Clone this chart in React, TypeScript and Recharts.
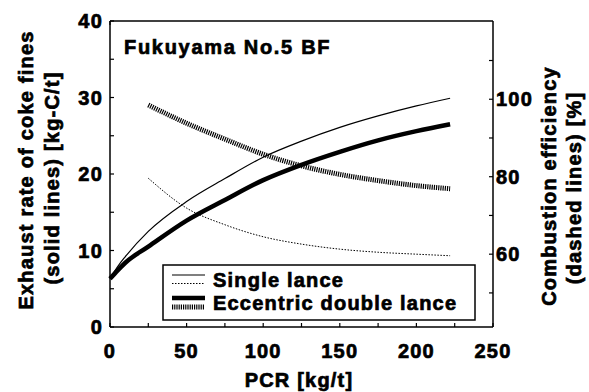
import React from 'react';
import { LineChart, Line, XAxis, YAxis } from 'recharts';

const FONT = '"Liberation Sans", Arial, Helvetica, sans-serif';

// PCR [kg/t]
const pcr = [0, 5, 10, 25, 50, 75, 100, 125, 150, 175, 200, 222];
// exhaust rate of coke fines [kg-C/t] (solid lines)
const singleExhaust = [6.3, 7.9, 9.2, 12.5, 16.4, 19.4, 22.2, 24.3, 26.1, 27.6, 28.9, 29.9];
const doubleExhaust = [6.3, 7.4, 8.4, 10.5, 13.9, 16.6, 19.2, 21.2, 22.9, 24.4, 25.6, 26.5];
// combustion efficiency [%] (dashed lines)
const singleEfficiency = [null, null, null, 79.6, 71.9, 67.6, 64.5, 62.6, 61.3, 60.5, 60.0, 59.6];
const doubleEfficiency = [null, null, null, 98.5, 93.8, 89.7, 85.8, 82.8, 80.6, 79.0, 77.7, 76.9];

// tick positions (every value gets an inward tick mark, labelled ones get text)
const xTicks = [0, 25, 50, 75, 100, 125, 150, 175, 200, 225, 250];
const xLabels = [0, 50, 100, 150, 200, 250];
const leftTicks = [0, 5, 10, 15, 20, 25, 30, 35, 40];
const leftLabels = [0, 10, 20, 30, 40];
const rightTicks = [50, 60, 70, 80, 90, 100, 110];
const rightLabels = [60, 80, 100];

const data = pcr.map((x, i) => ({
  pcr: x,
  singleExhaust: singleExhaust[i],
  doubleExhaust: doubleExhaust[i],
  singleEfficiency: singleEfficiency[i],
  doubleEfficiency: doubleEfficiency[i],
}));

const onlyLabels = (labels: number[]) => (v: number) => (labels.includes(v) ? String(v) : '');

const tickStyle = {
  fill: '#000',
  stroke: '#000',
  strokeWidth: 0.7,
  fontSize: 20,
  fontWeight: 700,
  fontFamily: FONT,
  letterSpacing: 1.2,
};
const frame = { stroke: '#000', strokeWidth: 1.5 };
const tickMark = { stroke: '#000', strokeWidth: 1.2 };

const titleProps = {
  fontFamily: FONT,
  fontWeight: 700,
  fontSize: 20,
  letterSpacing: 1.2,
  fill: '#000',
  stroke: '#000',
  strokeWidth: 0.7,
  textAnchor: 'middle' as const,
};

const LeftTitle = () => (
  <g {...titleProps}>
    <text transform="translate(33,170) rotate(-90)">Exhaust rate of coke fines</text>
    <text transform="translate(59,178) rotate(-90)">(solid lines) [kg-C/t]</text>
  </g>
);

const RightTitle = () => (
  <g {...titleProps}>
    <text transform="translate(556,186) rotate(-90)">Combustion efficiency</text>
    <text transform="translate(581,188) rotate(-90)">(dashed lines) [%]</text>
  </g>
);

const BottomTitle = () => (
  <text {...titleProps} x={299} y={387}>
    PCR [kg/t]
  </text>
);

const Overlay = () => (
  <svg
    width={589}
    height={392}
    style={{ position: 'absolute', left: 0, top: 0, pointerEvents: 'none' }}
  >
    <text {...titleProps} textAnchor="start" letterSpacing={1.7} x={124} y={54}>
      Fukuyama No.5 BF
    </text>
    <rect x={163} y={265} width={312} height={55} fill="#fff" stroke="#000" strokeWidth={1.5} />
    <line x1={172} x2={205} y1={275} y2={275} stroke="#000" strokeWidth={1.2} />
    <line x1={172} x2={205} y1={283.5} y2={283.5} stroke="#000" strokeWidth={1} strokeDasharray="1.5 1.5" />
    <line x1={172} x2={205} y1={298} y2={298} stroke="#000" strokeWidth={4.5} />
    <line x1={172} x2={205} y1={307} y2={307} stroke="#000" strokeWidth={5} strokeDasharray="1.2 1" />
    <text {...titleProps} textAnchor="start" x={213} y={287}>
      Single lance
    </text>
    <text {...titleProps} textAnchor="start" x={213} y={310}>
      Eccentric double lance
    </text>
  </svg>
);

export default function App() {
  return (
    <div style={{ position: 'absolute', left: 0, top: 0, width: 589, height: 392, background: '#fff' }}>
      <LineChart width={589} height={392} data={data} margin={{ top: 20, right: 0, bottom: 0, left: 0 }}>
        <XAxis
          xAxisId="x"
          dataKey="pcr"
          type="number"
          domain={[0, 250]}
          ticks={xTicks}
          interval={0}
          tickFormatter={onlyLabels(xLabels)}
          height={65}
          tickLine={tickMark}
          tickSize={-4}
          tickMargin={21}
          axisLine={frame}
          tick={tickStyle}
          label={<BottomTitle />}
        />
        <XAxis
          xAxisId="top"
          orientation="top"
          type="number"
          domain={[0, 250]}
          ticks={xTicks}
          interval={0}
          tickFormatter={() => ''}
          height={1}
          tickLine={tickMark}
          tickSize={-4}
          axisLine={frame}
        />

        <YAxis
          yAxisId="left"
          type="number"
          domain={[0, 40]}
          ticks={leftTicks}
          interval={0}
          tickFormatter={onlyLabels(leftLabels)}
          width={110}
          tickLine={tickMark}
          tickSize={-4}
          tickMargin={11}
          axisLine={frame}
          tick={tickStyle}
          label={<LeftTitle />}
        />

        <YAxis
          yAxisId="right"
          orientation="right"
          type="number"
          domain={[41.2, 120.2]}
          allowDataOverflow
          ticks={rightTicks}
          interval={0}
          tickFormatter={onlyLabels(rightLabels)}
          width={96}
          tickLine={tickMark}
          tickSize={-4}
          tickMargin={7}
          axisLine={frame}
          tick={tickStyle}
          label={<RightTitle />}
        />

        <Line xAxisId="x" yAxisId="left" type="monotone" dataKey="singleExhaust" stroke="#000" strokeWidth={1.2} dot={false} isAnimationActive={false} />
        <Line xAxisId="x" yAxisId="left" type="monotone" dataKey="doubleExhaust" stroke="#000" strokeWidth={4.5} dot={false} isAnimationActive={false} />
        <Line xAxisId="x" yAxisId="right" type="monotone" dataKey="singleEfficiency" stroke="#000" strokeWidth={1} strokeDasharray="1.5 1.5" dot={false} isAnimationActive={false} />
        <Line xAxisId="x" yAxisId="right" type="monotone" dataKey="doubleEfficiency" stroke="#000" strokeWidth={5} strokeDasharray="1.2 1" dot={false} isAnimationActive={false} />
      </LineChart>
      <Overlay />
    </div>
  );
}
